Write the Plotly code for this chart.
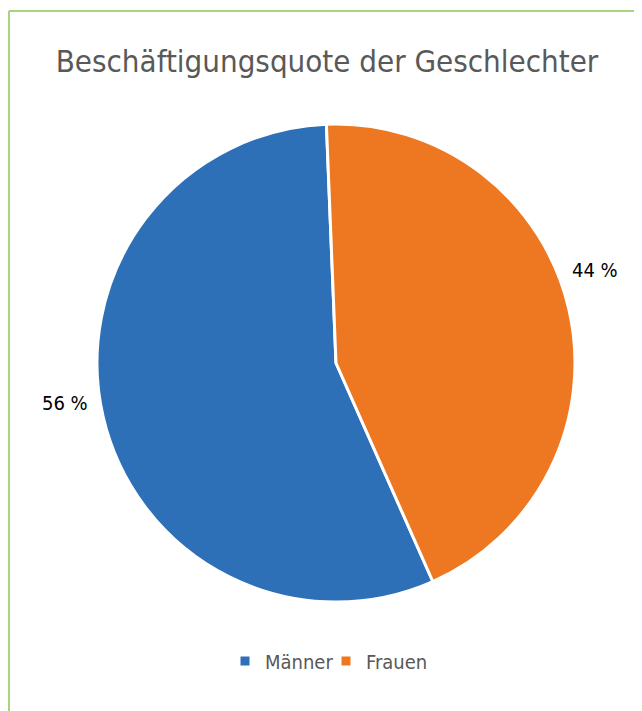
import plotly.graph_objects as go

categories = ["Männer", "Frauen"]
values = [56, 44]
colors = ["#2E70B8", "#ED7821"]
title_text = "Beschäftigungsquote der Geschlechter"

# The page body has an 8px margin; figure is sized to fill the rest of the window.
W, H = 634, 703
OFF = 8
FONT = "DejaVu Sans Condensed, Liberation Sans Narrow, sans-serif"


def px(x):
    return (x - OFF) / W


def py(y):
    return 1 - (y - OFF) / H


fig = go.Figure()
fig.add_trace(go.Pie(
    labels=categories,
    values=values,
    sort=False,
    direction="clockwise",
    rotation=156.1,
    marker=dict(colors=colors, line=dict(color="white", width=3)),
    textinfo="none",
    hoverinfo="label+percent",
    domain=dict(x=[px(97), px(575)], y=[py(602), py(124)]),
))

# data labels (text from the values)
label_pos = [(65, 403), (595, 270)]
for v, (lx, ly) in zip(values, label_pos):
    fig.add_annotation(
        x=px(lx), y=py(ly), xref="paper", yref="paper",
        text=f"{v} %", showarrow=False,
        font=dict(family=FONT, size=20, color="#000000"),
        xanchor="center", yanchor="middle",
    )

# chart-area border (green)
border = "#A9D47E"
fig.add_shape(type="line", xref="paper", yref="paper",
              x0=px(9), x1=1.05, y0=py(11), y1=py(11),
              line=dict(color=border, width=2))
fig.add_shape(type="line", xref="paper", yref="paper",
              x0=px(9), x1=px(9), y0=-0.05, y1=py(11),
              line=dict(color=border, width=2))

fig.update_layout(
    width=W, height=H,
    margin=dict(l=0, r=0, t=0, b=0),
    paper_bgcolor="white",
    plot_bgcolor="white",
    title=dict(text=title_text, x=px(327), xanchor="center",
               y=py(61), yanchor="middle",
               font=dict(family=FONT, size=31, color="#595959")),
    showlegend=True,
    legend=dict(orientation="h", x=px(326), xanchor="center",
                y=py(661), yanchor="middle",
                font=dict(family=FONT, size=20, color="#595959"),
                entrywidth=56, entrywidthmode="pixels",
                traceorder="normal", itemclick=False),
)

fig.write_html("out.html")
